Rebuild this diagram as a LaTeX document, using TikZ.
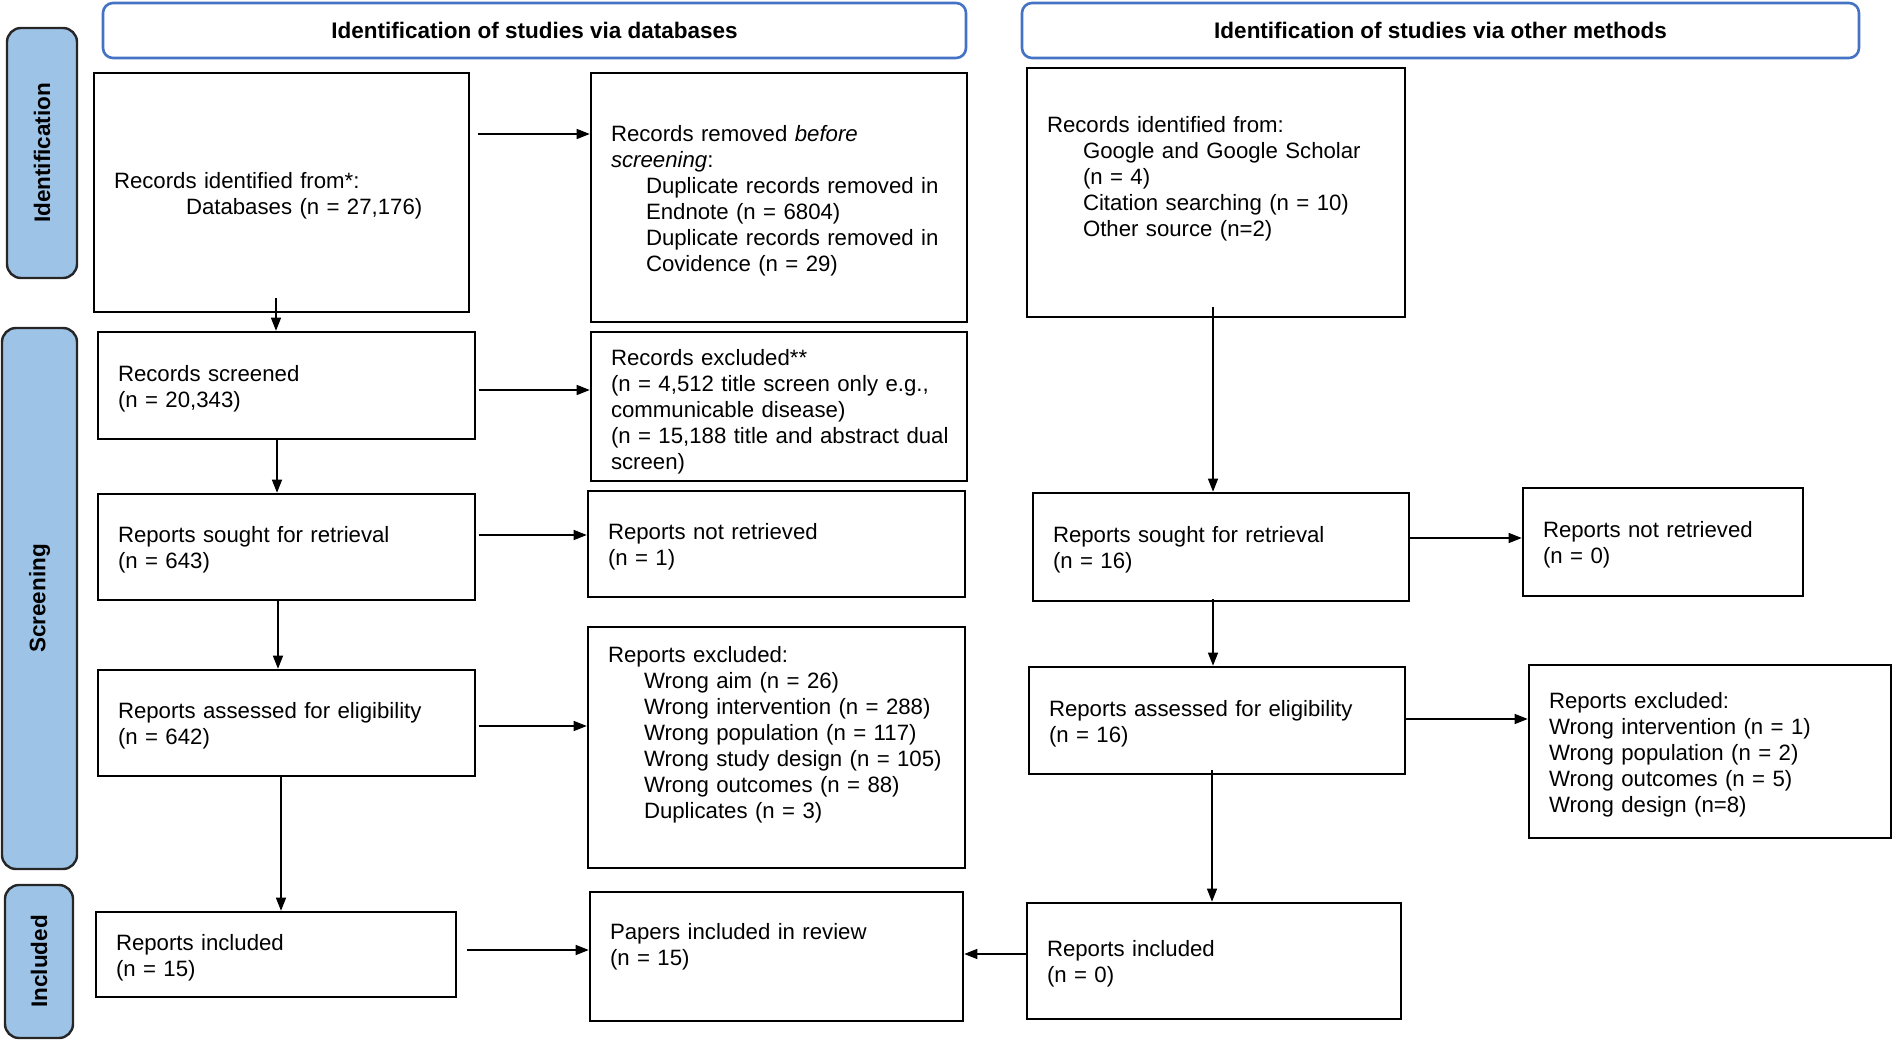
\documentclass[tikz,border=0pt]{standalone}
\usepackage{fontspec}
\setmainfont{Liberation Sans}
\usetikzlibrary{arrows.meta}
\definecolor{hdrblue}{RGB}{68,114,196}
\definecolor{stagefill}{RGB}{157,195,230}
\newcommand{\ind}[1]{\hspace*{#1pt}}
\newcommand{\lift}[1]{\rule[-#1pt]{0pt}{#1pt}}

\begin{document}
\begin{tikzpicture}[x=0.5pt,y=-0.5pt,
	every node/.style={font=\fontsize{11.1}{13}\selectfont},
	box/.style={draw,line width=1.3pt,align=left,inner xsep=10pt,inner ysep=0pt,execute at begin node={\rule{0pt}{11.1pt}}},
	hdr/.style={draw=hdrblue,line width=1.3pt,rounded corners=5pt,minimum height=27.5pt,font=\fontsize{11.25}{12.8}\selectfont\bfseries},
	stage/.style={draw=black!85,fill=stagefill,line width=1.2pt,rounded corners=7pt,rotate=90,font=\fontsize{11.25}{12.8}\selectfont\bfseries},
	arr/.style={-{Triangle[length=6.5pt,width=5pt]},line width=0.65pt}]
	\useasboundingbox (0,0) rectangle (1896,1042);

	\node[hdr,minimum width=431.5pt] (hdrdb) at (534.5,30.5) {Identification of studies via databases};
	\node[hdr,minimum width=418.5pt] (hdrother) at (1440.5,30.5) {Identification of studies via other methods};

	\node[stage,minimum width=125pt,minimum height=35pt] (stident) at (42,153) {Identification};
	\node[stage,minimum width=270.5pt,minimum height=37.5pt] (stscreen) at (39.5,598.5) {Screening};
	\node[stage,minimum width=76.5pt,minimum height=34pt] (stincl) at (39,961.5) {Included};

	% databases
	\node[box,text width=167.5pt,minimum height=119.5pt] (A1) at (281.5,192.5) {Records identified from*:\\\ind{36}Databases (n = 27,176)};
	\node[box,text width=168pt,minimum height=124.5pt] (A2) at (779,197.5) {Records removed \textit{before}\\\textit{screening}:\\\ind{17.5}Duplicate records removed in\\\ind{17.5}Endnote (n = 6804)\\\ind{17.5}Duplicate records removed in\\\ind{17.5}Covidence (n = 29)};
	\node[box,text width=168.5pt,minimum height=53.5pt] (B1) at (286.5,385.5) {Records screened\\(n = 20,343)};
	\node[box,text width=168pt,minimum height=74.5pt] (B2) at (779,406.5) {\rule{0pt}{13.5pt}Records excluded**\\(n = 4,512 title screen only e.g.,\\communicable disease)\\\mbox{(n = 15,188 title and abstract dual}\\screen)};
	\node[box,text width=168.5pt,minimum height=53pt] (C1) at (286.5,547) {Reports sought for retrieval\\(n = 643)};
	\node[box,text width=168.5pt,minimum height=53pt] (C2) at (776.5,544) {Reports not retrieved\\(n = 1)};
	\node[box,text width=168.5pt,minimum height=53pt] (D1) at (286.5,723) {Reports assessed for eligibility\\(n = 642)};
	\node[box,text width=168.5pt,minimum height=120.5pt] (D2) at (776.5,747.5) {Reports excluded:\\\ind{18}Wrong aim (n = 26)\\\ind{18}Wrong intervention (n = 288)\\\ind{18}Wrong population (n = 117)\\\ind{18}\mbox{Wrong study design (n = 105)}\\\ind{18}Wrong outcomes (n = 88)\\\ind{18}Duplicates (n = 3)\lift{18}};
	\node[box,text width=160pt,minimum height=42.5pt] (E1) at (276,954.5) {Reports included\\(n = 15)};
	\node[box,text width=166.5pt,minimum height=64.5pt] (E2) at (776.5,956.5) {Papers included in review\\(n = 15)\lift{15}};

	% other methods
	\node[box,text width=169pt,minimum height=124.5pt] (R1) at (1216,192.5) {Records identified from:\\\ind{18}Google and Google Scholar\\\ind{18}(n = 4)\\\ind{18}Citation searching (n = 10)\\\ind{18}Other source (n=2)\lift{19}};
	\node[box,text width=168pt,minimum height=54pt] (R2) at (1221,547) {Reports sought for retrieval\\(n = 16)};
	\node[box,text width=120pt,minimum height=54pt] (R3) at (1663,542) {Reports not retrieved\\(n = 0)};
	\node[box,text width=168pt,minimum height=53.5pt] (R4) at (1217,720.5) {Reports assessed for eligibility\\(n = 16)};
	\node[box,text width=161pt,minimum height=86.5pt] (R5) at (1710,751.5) {Reports excluded:\\Wrong intervention (n = 1)\\Wrong population (n = 2)\\Wrong outcomes (n = 5)\\Wrong design (n=8)};
	\node[box,text width=167pt,minimum height=58pt] (R6) at (1214,961) {Reports included\\(n = 0)};

	\draw[arr] ([shift={(-5.5,-15)}]A1.south) -- ([shift={(-10.5,0)}]B1.north);
	\draw[arr] ([shift={(8,-58.5)}]A1.east) -- ([shift={(0,-63.5)}]A2.west);
	\draw[arr] ([shift={(3,4.5)}]B1.east) -- ([shift={(0,-16.5)}]B2.west);
	\draw[arr] ([shift={(3,-12)}]C1.east) -- ([shift={(0,-9)}]C2.west);
	\draw[arr] ([shift={(3,3)}]D1.east) -- ([shift={(0,-21.5)}]D2.west);
	\draw[arr] ([shift={(-9.5,0)}]B1.south) -- ([shift={(-9.5,0)}]C1.north);
	\draw[arr] ([shift={(-8.5,0)}]C1.south) -- ([shift={(-8.5,0)}]D1.north);
	\draw[arr] ([shift={(-5.5,0)}]D1.south) -- ([shift={(5,0)}]E1.north);
	\draw[arr] ([shift={(10,-4.5)}]E1.east) -- ([shift={(0,-6.5)}]E2.west);

	\draw[arr] ([shift={(-3,-11)}]R1.south) -- ([shift={(-8,0)}]R2.north);
	\draw[arr] ([shift={(0,-9)}]R2.east) -- ([shift={(0,-4)}]R3.west);
	\draw[arr] ([shift={(-8,-3)}]R2.south) -- ([shift={(-4,0)}]R4.north);
	\draw[arr] ([shift={(0,-1.5)}]R4.east) -- ([shift={(0,-32.5)}]R5.west);
	\draw[arr] ([shift={(-5,-5)}]R4.south) -- ([shift={(-2,0)}]R6.north);
	\draw[arr] ([shift={(0,-7)}]R6.west) -- ([shift={(0,-2.5)}]E2.east);
\end{tikzpicture}
\end{document}
